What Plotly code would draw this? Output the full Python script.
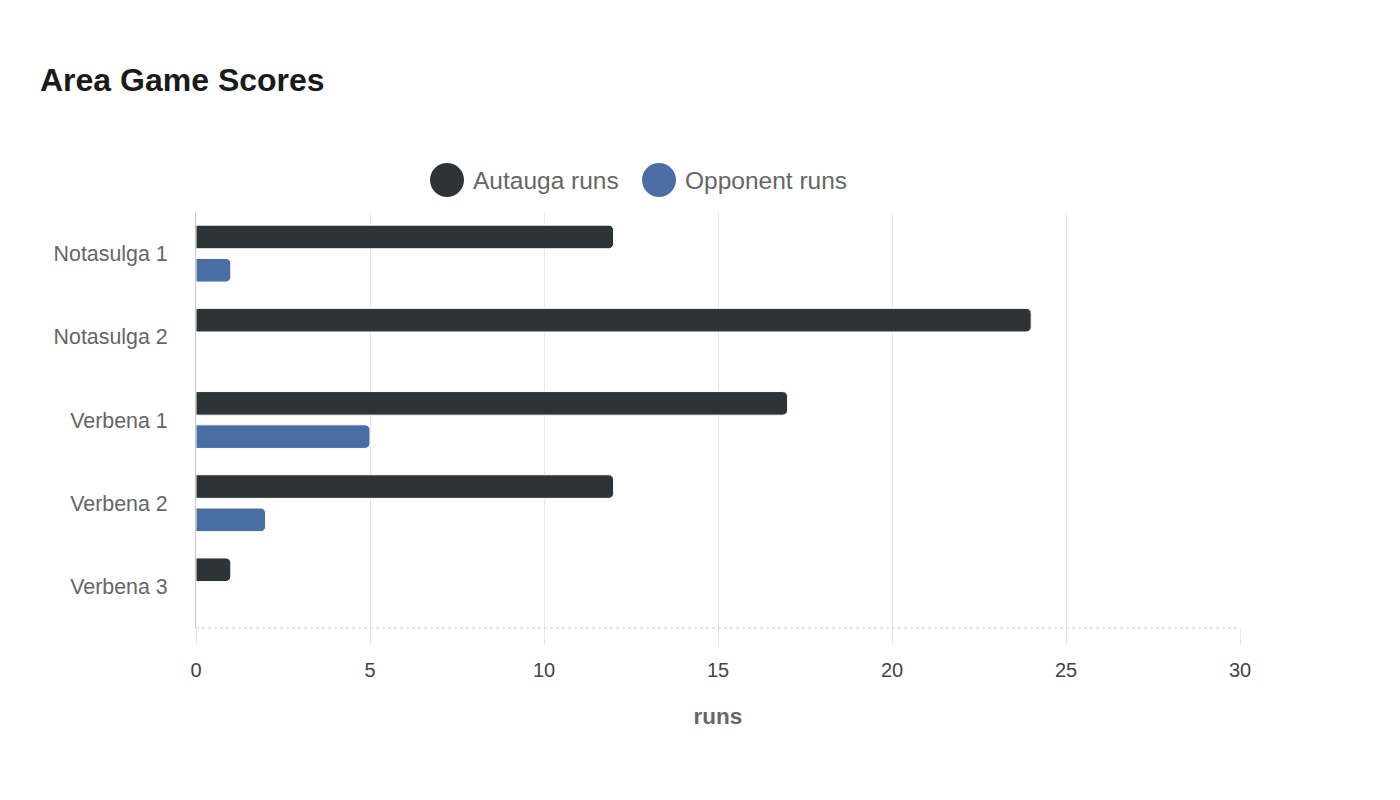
import plotly.graph_objects as go

games = ["Notasulga 1", "Notasulga 2", "Verbena 1", "Verbena 2", "Verbena 3"]
autauga_runs = [12, 24, 17, 12, 1]
opponent_runs = [1, 0, 5, 2, 0]
series_names = ["Autauga runs", "Opponent runs"]
series_colors = ["#2d3437", "#4a6da4"]
x_ticks = [0, 5, 10, 15, 20, 25, 30]

W, H = 1400, 800
OFF = 8  # page body offset
L, R, T, B = 196 - OFF, 160 + OFF, 212 - OFF, 172 + OFF
PW, PH = W - L - R, H - T - B
FONT = "Liberation Sans, Arial, sans-serif"

def px_x(px):
    return (px - L - OFF) / PW

def px_y(py):
    return (H - B + OFF - py) / PH

fig = go.Figure()
for name, vals, col in zip(series_names, [autauga_runs, opponent_runs], series_colors):
    fig.add_trace(go.Bar(
        y=games, x=vals, name=name, orientation="h",
        marker=dict(color=col, line=dict(color="#ffffff", width=1), cornerradius=5),
        showlegend=False,
        hovertemplate="%{y}: %{x}<extra>" + name + "</extra>",
    ))

# manual legend (large circle symbols)
legend_pos = [(447, 471), (659, 683)]
for (cx, tx), name, col in zip(legend_pos, series_names, series_colors):
    fig.add_shape(type="circle", xref="paper", yref="paper",
                  x0=px_x(cx - 17), x1=px_x(cx + 17),
                  y0=px_y(180 + 17), y1=px_y(180 - 17),
                  fillcolor=col, line=dict(width=0))
    fig.add_annotation(text=name, xref="paper", yref="paper",
                       x=px_x(tx), y=px_y(181), xanchor="left", yanchor="middle",
                       showarrow=False,
                       font=dict(family=FONT, size=24.5, color="#666666"))

# dotted bottom axis line
fig.add_shape(type="line", xref="paper", yref="paper", x0=0, x1=1, y0=0, y1=0,
              line=dict(color="#cccccc", width=1, dash="dot"))

fig.update_layout(
    width=W, height=H,
    margin=dict(l=L, r=R, t=T, b=B),
    paper_bgcolor="#ffffff", plot_bgcolor="#ffffff",
    barmode="group", bargap=0.2, bargroupgap=0.29,
    font=dict(family=FONT, color="#666666"),
    title=dict(text="<b>Area Game Scores</b>", x=(40 - OFF) / W, xref="container", xanchor="left",
               y=1 - (80 - OFF) / H, yref="container", yanchor="middle",
               font=dict(size=32, color="#1a1a1a", family=FONT)),
    xaxis=dict(range=[0, 30], tickvals=x_ticks, showgrid=True, gridcolor="#e6e6e6", gridwidth=1,
               zeroline=False,
               ticks="outside", ticklen=16, tickcolor="#e6e6e6", tickwidth=1,
               ticklabelstandoff=8,
               tickfont=dict(size=20, color="#444444"),
               showline=False,
               title=dict(text="<b>runs</b>", font=dict(size=22.5, color="#666666"), standoff=28)),
    yaxis=dict(categoryorder="array", categoryarray=games, autorange="reversed",
               showgrid=False, zeroline=False, showline=True, linecolor="#c8c8c8", linewidth=1,
               ticks="",
               ticklabelstandoff=23,
               tickfont=dict(size=21.4, color="#666666")),
)

fig.write_html("out.html")
